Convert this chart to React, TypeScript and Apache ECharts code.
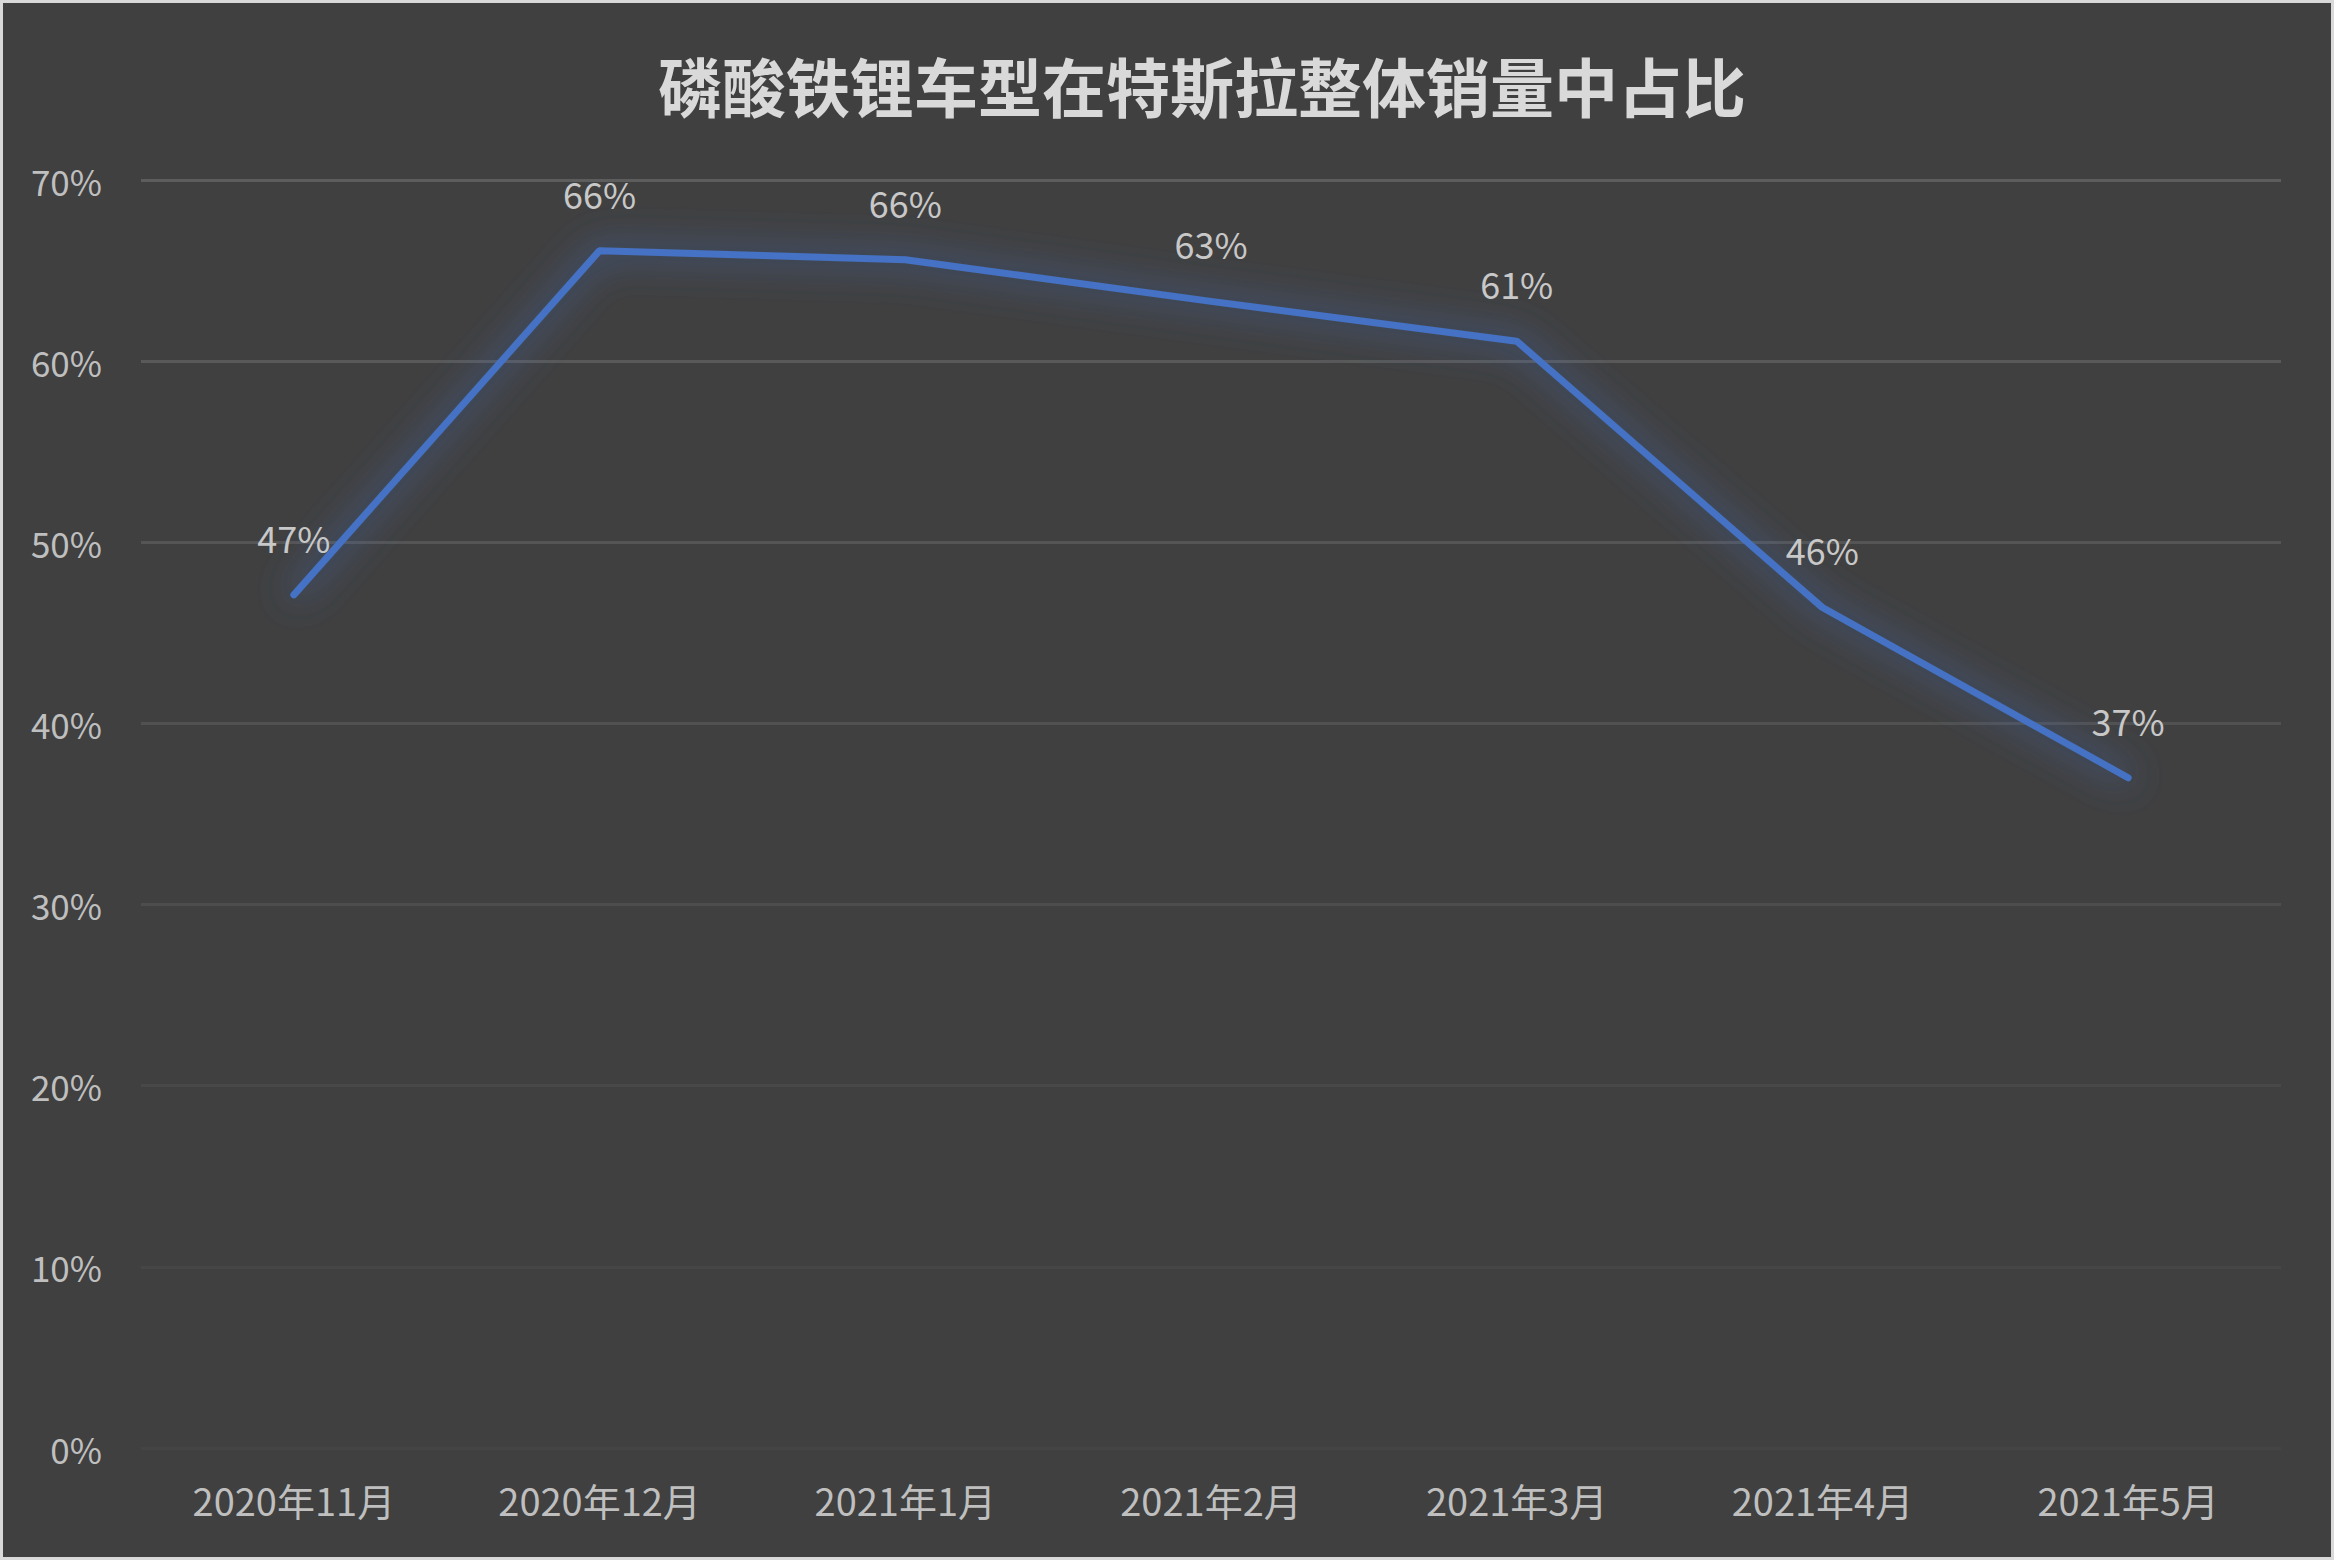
import React, { useEffect, useRef } from "react";
import * as echarts from "echarts";

const titleText = "磷酸铁锂车型在特斯拉整体销量中占比";
const categories = [
  "2020年11月",
  "2020年12月",
  "2021年1月",
  "2021年2月",
  "2021年3月",
  "2021年4月",
  "2021年5月",
];
const shareValues = [0.471, 0.661, 0.656, 0.633, 0.611, 0.464, 0.37];
const yMin = 0;
const yMax = 0.7;
const yInterval = 0.1;
// gridline colours from 0% upward (fading towards the bottom)
const gridColors = ["#444444", "#464646", "#484848", "#4d4d4d", "#515151", "#555555", "#595959", "#5d5d5d"];

const FONT = "'Noto Sans CJK SC', 'Noto Sans', sans-serif";

const pct = (v: number) => Math.round(v * 100) + "%";

export default function App() {
  const ref = useRef<HTMLDivElement>(null);
  useEffect(() => {
    if (!ref.current) return;
    const chart = echarts.init(ref.current, undefined, { renderer: "svg" });
    chart.setOption({
      animation: false,
      backgroundColor: "#404040",
      grid: { left: 141, right: 53, top: 180, bottom: 112, containLabel: false },
      graphic: [
        {
          type: "rect",
          shape: { x: 1.5, y: 1.5, width: 2331, height: 1557 },
          style: { fill: "none", stroke: "#d9d9d9", lineWidth: 3 },
          z: 100,
        },
        {
          type: "text",
          x: 1202,
          y: 84,
          style: {
            text: titleText,
            fill: "#d9d9d9",
            fontSize: 64,
            fontWeight: "bold",
            fontFamily: FONT,
            align: "center",
            verticalAlign: "middle",
            textAlign: "center",
            textVerticalAlign: "middle",
          },
        },
      ],
      xAxis: {
        type: "category",
        data: categories,
        boundaryGap: true,
        axisLine: { show: false },
        axisTick: { show: false },
        axisLabel: {
          color: "#bfbfbf",
          fontSize: 38,
          fontFamily: FONT,
          margin: 32,
        },
        splitLine: { show: false },
      },
      yAxis: {
        type: "value",
        min: yMin,
        max: yMax,
        interval: yInterval,
        axisLine: { show: false },
        axisTick: { show: false },
        axisLabel: {
          color: "#bfbfbf",
          fontSize: 35,
          fontFamily: FONT,
          margin: 39,
          formatter: (v: number) => pct(v),
        },
        splitLine: { show: true, lineStyle: { color: gridColors, width: 3 } },
      },
      series: [
        {
          type: "line",
          data: shareValues,
          symbol: "circle",
          symbolSize: 6,
          showSymbol: true,
          itemStyle: { color: "#4472c4" },
          lineStyle: {
            color: "#4472c4",
            width: 7,
            cap: "round",
            shadowBlur: 38,
            shadowColor: "rgba(70,118,210,1)",
          },
          label: {
            show: true,
            position: "top",
            distance: 37,
            color: "#c8c8c8",
            fontSize: 36,
            fontFamily: FONT,
            formatter: (p: any) => pct(p.value),
          },
        },
      ],
    });
    return () => chart.dispose();
  }, []);
  return (
    <div
      ref={ref}
      style={{ position: "absolute", left: 0, top: 0, width: 2334, height: 1560 }}
    />
  );
}
